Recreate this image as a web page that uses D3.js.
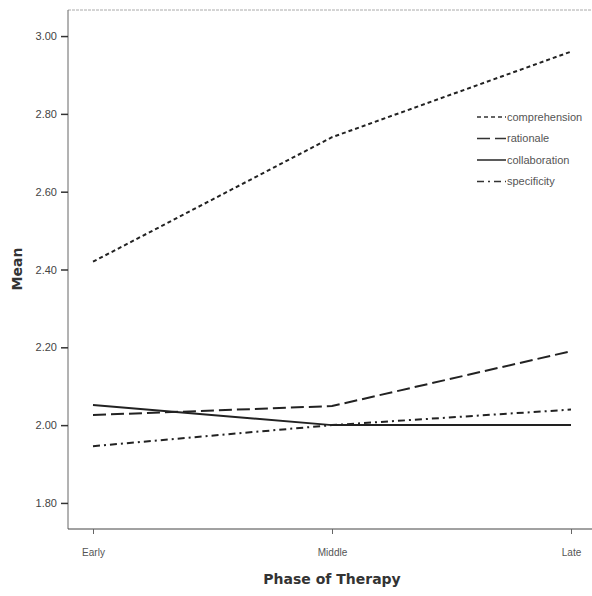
<!DOCTYPE html>
<html>
<head>
<meta charset="utf-8">
<script src="https://cdn.jsdelivr.net/npm/d3@7"></script>
<style>
  body { margin: 0; background: #fff; }
  svg { display: block; }
</style>
</head>
<body>
<svg width="592" height="596"></svg>
<script>
var svg = d3.select("svg");

// data
var phases = ["Early", "Middle", "Late"];
var comprehension = [2.42, 2.74, 2.96];
var rationale = [2.026, 2.049, 2.19];
var collaboration = [2.052, 2.0, 2.0];
var specificity = [1.946, 2.0, 2.04];
var yTicks = [1.8, 2.0, 2.2, 2.4, 2.6, 2.8, 3.0];

var series = [
  { name: "comprehension", values: comprehension, dash: "4,3" },
  { name: "rationale", values: rationale, dash: "13,5" },
  { name: "collaboration", values: collaboration, dash: null },
  { name: "specificity", values: specificity, dash: "7,4,2,4" }
];

// plot box (note: "top" is reserved on window, so use other names)
var plotL = 68, plotR = 592, plotT = 10, plotB = 529;

var x = d3.scalePoint()
    .domain(phases)
    .range([93, 571]);

var y = d3.scaleLinear()
    .domain([1.733, 3.067])
    .range([plotB, plotT]);

// frame top (faint)
svg.append("line")
    .attr("x1", plotL).attr("x2", plotR)
    .attr("y1", plotT).attr("y2", plotT)
    .attr("stroke", "#aaa")
    .attr("stroke-dasharray", "3,1");

// y axis
var gy = svg.append("g")
    .attr("transform", "translate(" + plotL + ",0)")
    .call(d3.axisLeft(y)
        .tickValues(yTicks)
        .tickSize(7)
        .tickPadding(4)
        .tickFormat(d3.format(".2f")));
gy.select(".domain").attr("stroke", "#666").attr("d", "M0," + plotT + "V" + plotB);
gy.selectAll(".tick line").attr("stroke", "#333").attr("stroke-width", 1.5);
gy.selectAll("text")
    .attr("font-family", "Arial, 'Liberation Sans', sans-serif")
    .attr("font-size", 11)
    .attr("fill", "#444");

// x axis
var gx = svg.append("g")
    .attr("transform", "translate(0," + plotB + ")")
    .call(d3.axisBottom(x).tickSize(5).tickPadding(15));
gx.select(".domain").attr("stroke", "#444").attr("d", "M" + plotL + ",0H" + plotR);
gx.selectAll(".tick line").attr("stroke", "#666");
gx.selectAll("text")
    .attr("font-family", "Arial, 'Liberation Sans', sans-serif")
    .attr("font-size", 10)
    .attr("fill", "#555");

// axis titles
svg.append("text")
    .attr("x", 332)
    .attr("y", 584)
    .attr("text-anchor", "middle")
    .attr("font-family", "'DejaVu Sans', sans-serif")
    .attr("font-weight", "bold")
    .attr("font-size", 14)
    .attr("fill", "#333")
    .text("Phase of Therapy");

svg.append("text")
    .attr("transform", "translate(22,269) rotate(-90)")
    .attr("text-anchor", "middle")
    .attr("font-family", "'DejaVu Sans', sans-serif")
    .attr("font-weight", "bold")
    .attr("font-size", 14)
    .attr("fill", "#333")
    .text("Mean");

// lines
var line = d3.line()
    .x(function(d, i) { return x(phases[i]); })
    .y(function(d) { return y(d); });

svg.selectAll(".series")
  .data(series)
  .enter().append("path")
    .attr("class", "series")
    .attr("d", function(d) { return line(d.values); })
    .attr("fill", "none")
    .attr("stroke", "#222")
    .attr("stroke-width", 2)
    .attr("stroke-dasharray", function(d) { return d.dash; });

// legend
var legend = svg.append("g")
    .attr("transform", "translate(477,117)");

var rows = legend.selectAll("g")
  .data(series)
  .enter().append("g")
    .attr("transform", function(d, i) { return "translate(0," + (i * 21.5) + ")"; });

rows.append("line")
    .attr("x1", 0).attr("x2", 29)
    .attr("stroke", "#333")
    .attr("stroke-width", 1.6)
    .attr("stroke-dasharray", function(d) { return d.dash; });

rows.append("text")
    .attr("x", 30)
    .attr("dy", "0.35em")
    .attr("font-family", "Arial, 'Liberation Sans', sans-serif")
    .attr("font-size", 11)
    .attr("fill", "#555")
    .text(function(d) { return d.name; });
</script>
</body>
</html>
